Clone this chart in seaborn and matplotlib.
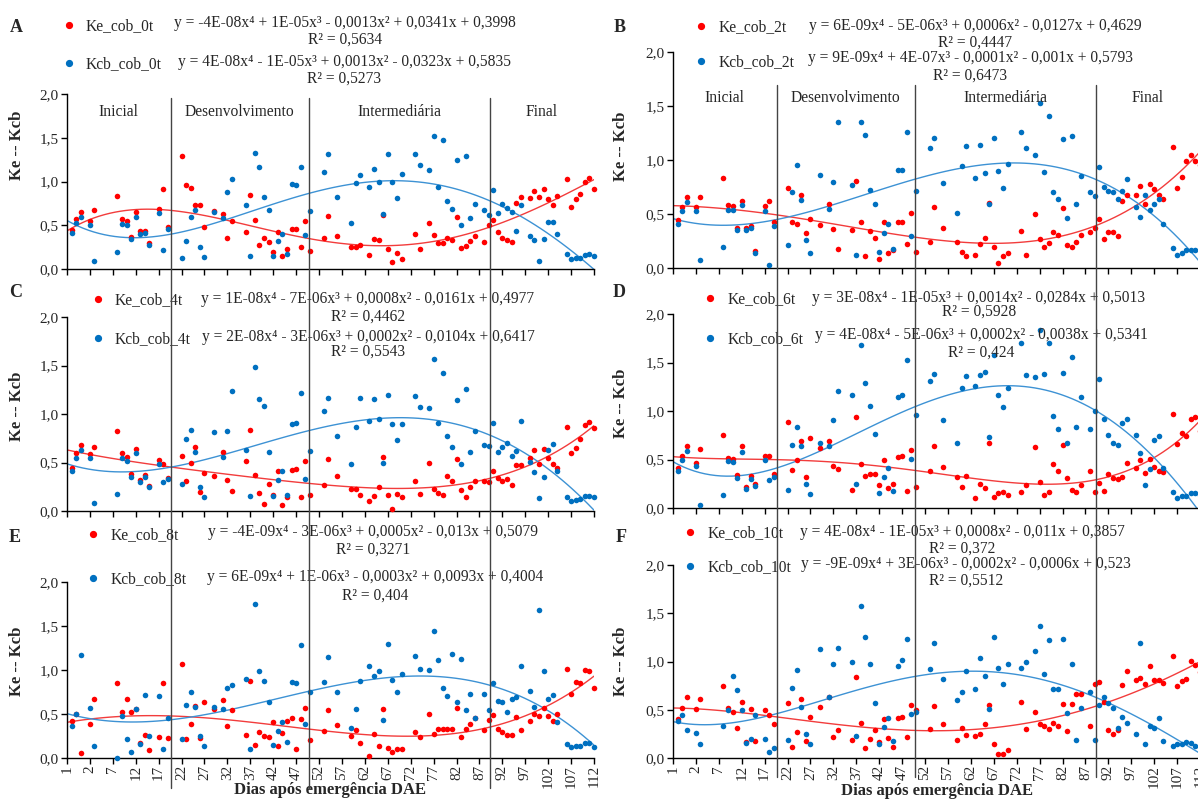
import numpy as np
import pandas as pd
import seaborn as sns
import matplotlib
matplotlib.use("Agg")
import matplotlib.pyplot as plt
import matplotlib.transforms as mtransforms
from matplotlib.lines import Line2D

# ---------------- data ----------------
# category positions (0 = first category "1") of the observation days
POS = [1, 2, 3, 5, 6, 11, 12, 13, 14, 15, 16, 17, 18, 20, 21, 22,
       25, 26, 27, 28, 29, 30, 32, 34, 35, 36, 39, 40, 41, 42, 43, 44, 45, 46, 47, 48, 49, 50, 51, 52, 53,
       56, 57, 59, 62, 63, 64, 66, 67, 68, 69, 70, 71, 72, 73, 76, 77, 79, 80, 81, 82, 83, 84, 85, 86, 87, 88, 89,
       91,
       92, 93, 94, 95, 96, 97, 98, 99, 101, 102, 103, 104, 105, 106, 107, 109, 110, 111, 112, 113, 114, 115]

XTICK_LABELS = ["1", "2", "7", "12", "17", "22", "27", "32", "37", "42", "47", "52", "57",
                "62", "67", "72", "77", "82", "87", "92", "97", "102", "107", "112"]
YTICK_LABELS = ["0,0", "0,5", "1,0", "1,5", "2,0"]
STAGES = ["Inicial", "Desenvolvimento", "Intermediária", "Final"]
STAGE_BOUNDS = [22.6, 52.7, 92.2]

KE_0T = [0.45, 0.575, 0.65, 0.545, 0.68, 0.84, 0.57, 0.545, 0.365, 0.65, 0.44, 0.44, 0.30, 0.69, 0.91, 0.48,
         1.29, 0.96, 0.93, 0.735, 0.73, 0.48, 0.66, 0.63, 0.36, 0.545, 0.42, 0.85, 0.555, 0.27, 0.355, 0.31, 0.20, 0.42, 0.145, 0.23, 0.46, 0.46, 0.25, 0.545, 0.21,
         0.35, 0.61, 0.38, 0.25, 0.25, 0.27, 0.155, 0.34, 0.33, 0.62, 0.23, 0.075, 0.18, 0.11, 0.40, 0.23, 0.53, 0.39, 0.30, 0.30, 0.36, 0.33, 0.59, 0.24, 0.26, 0.32, 0.38,
         0.31,
         0.50, 0.555, 0.42, 0.35, 0.33, 0.305, 0.755, 0.82, 0.81, 0.895, 0.82, 0.915, 0.80, 0.735, 0.84, 1.03, 0.71, 0.80, 0.86, 0.995, 1.04, 0.915]
KCB_0T = [0.41, 0.53, 0.595, 0.50, 0.09, 0.195, 0.52, 0.505, 0.345, 0.595, 0.40, 0.41, 0.27, 0.64, 0.22, 0.455,
          0.125, 0.315, 0.60, 0.68, 0.25, 0.135, 0.65, 0.585, 0.88, 1.03, 0.73, 0.15, 1.325, 1.165, 0.82, 0.68, 0.15, 0.325, 0.405, 0.175, 0.975, 0.965, 1.17, 0.385, 0.66,
          1.105, 1.31, 0.82, 0.525, 0.98, 1.07, 0.94, 1.145, 1.00, 0.63, 1.32, 1.00, 0.81, 1.085, 1.315, 1.185, 1.135, 1.525, 0.94, 1.47, 0.78, 0.69, 1.25, 0.50, 1.29, 0.585, 0.745,
          0.68,
          0.62, 0.905, 0.635, 0.745, 0.70, 0.65, 0.44, 0.73, 0.375, 0.335, 0.09, 0.345, 0.535, 0.535, 0.405, 0.17, 0.12, 0.13, 0.13, 0.155, 0.17, 0.145]

KE_2T = [0.44, 0.565, 0.66, 0.565, 0.66, 0.83, 0.58, 0.57, 0.375, 0.625, 0.375, 0.39, 0.155, 0.575, 0.625, 0.425,
         0.745, 0.425, 0.405, 0.68, 0.32, 0.455, 0.395, 0.595, 0.36, 0.18, 0.355, 0.805, 0.43, 0.11, 0.34, 0.28, 0.08, 0.425, 0.14, 0.17, 0.43, 0.425, 0.22, 0.51, 0.15,
         0.245, 0.565, 0.37, 0.245, 0.15, 0.11, 0.125, 0.22, 0.28, 0.605, 0.195, 0.05, 0.11, 0.14, 0.345, 0.12, 0.50, 0.27, 0.195, 0.23, 0.335, 0.31, 0.56, 0.215, 0.19, 0.245, 0.31,
         0.335,
         0.37, 0.45, 0.27, 0.335, 0.335, 0.30, 0.62, 0.68, 0.68, 0.76, 0.595, 0.78, 0.735, 0.675, 0.64, 1.12, 0.74, 0.845, 0.995, 1.05, 0.99, 0.955]
KCB_2T = [0.405, 0.525, 0.615, 0.525, 0.07, 0.195, 0.535, 0.535, 0.35, 0.585, 0.35, 0.37, 0.14, 0.53, 0.03, 0.39,
          0.21, 0.70, 0.95, 0.63, 0.255, 0.14, 0.865, 0.545, 0.795, 1.35, 0.77, 0.125, 1.35, 1.235, 0.725, 0.59, 0.15, 0.32, 0.41, 0.18, 0.905, 0.905, 1.255, 0.30, 0.71,
          1.11, 1.205, 0.79, 0.51, 0.94, 1.13, 0.835, 1.14, 0.88, 0.59, 1.20, 0.895, 0.74, 0.96, 1.255, 1.11, 1.05, 1.53, 0.89, 1.405, 0.705, 0.64, 1.19, 0.465, 1.22, 0.595, 0.85,
          0.705,
          0.665, 0.935, 0.75, 0.715, 0.705, 0.64, 0.715, 0.82, 0.565, 0.47, 0.68, 0.535, 0.595, 0.64, 0.41, 0.185, 0.125, 0.14, 0.17, 0.17, 0.165, 0.155]

KE_4T = [0.44, 0.60, 0.68, 0.59, 0.66, 0.82, 0.60, 0.56, 0.38, 0.64, 0.32, 0.37, 0.26, 0.53, 0.48, 0.34,
         0.57, 0.31, 0.50, 0.66, 0.20, 0.39, 0.36, 0.61, 0.32, 0.21, 0.52, 0.84, 0.37, 0.19, 0.07, 0.28, 0.16, 0.41, 0.065, 0.14, 0.42, 0.43, 0.14, 0.52, 0.17,
         0.27, 0.54, 0.36, 0.23, 0.23, 0.17, 0.10, 0.15, 0.25, 0.56, 0.17, 0.02, 0.18, 0.14, 0.31, 0.18, 0.50, 0.23, 0.19, 0.17, 0.36, 0.31, 0.54, 0.22, 0.14, 0.25, 0.31,
         0.31,
         0.30, 0.41, 0.34, 0.31, 0.33, 0.27, 0.47, 0.47, 0.55, 0.63, 0.48, 0.64, 0.55, 0.48, 0.44, 0.87, 0.60, 0.65, 0.74, 0.89, 0.92, 0.86]
KCB_4T = [0.41, 0.55, 0.63, 0.55, 0.08, 0.18, 0.55, 0.52, 0.35, 0.60, 0.30, 0.35, 0.25, 0.48, 0.30, 0.33,
          0.28, 0.74, 0.84, 0.61, 0.25, 0.14, 0.81, 0.56, 0.82, 1.24, 0.63, 0.15, 1.48, 1.15, 1.08, 0.61, 0.15, 0.32, 0.41, 0.17, 0.90, 0.91, 1.22, 0.33, 0.62,
          1.03, 1.16, 0.77, 0.48, 0.87, 1.16, 0.93, 1.15, 0.95, 0.50, 1.20, 0.90, 0.73, 0.90, 1.19, 1.07, 1.06, 1.57, 0.91, 1.42, 0.77, 0.66, 1.14, 0.48, 1.26, 0.61, 0.82,
          0.68,
          0.67, 0.91, 0.61, 0.66, 0.70, 0.57, 0.62, 0.93, 0.51, 0.40, 0.13, 0.35, 0.63, 0.69, 0.41, 0.14, 0.10, 0.11, 0.12, 0.15, 0.15, 0.14]

KE_6T = [0.41, 0.54, 0.64, 0.46, 0.61, 0.75, 0.52, 0.51, 0.34, 0.64, 0.22, 0.33, 0.25, 0.54, 0.54, 0.35,
         0.89, 0.39, 0.49, 0.69, 0.32, 0.72, 0.62, 0.69, 0.43, 0.40, 0.19, 0.94, 0.45, 0.33, 0.35, 0.35, 0.24, 0.49, 0.21, 0.25, 0.53, 0.54, 0.18, 0.60, 0.22,
         0.38, 0.64, 0.42, 0.32, 0.22, 0.33, 0.10, 0.25, 0.21, 0.67, 0.11, 0.15, 0.16, 0.13, 0.17, 0.24, 0.63, 0.27, 0.13, 0.16, 0.45, 0.38, 0.65, 0.31, 0.19, 0.17, 0.24,
         0.38,
         0.17, 0.26, 0.18, 0.35, 0.31, 0.30, 0.32, 0.46, 0.41, 0.49, 0.36, 0.51, 0.42, 0.38, 0.37, 0.97, 0.66, 0.77, 0.74, 0.92, 0.94, 0.79]
KCB_6T = [0.38, 0.49, 0.59, 0.43, 0.03, 0.13, 0.48, 0.47, 0.31, 0.58, 0.20, 0.30, 0.23, 0.49, 0.29, 0.32,
          0.19, 0.65, 0.84, 0.64, 0.25, 0.14, 0.67, 0.64, 0.91, 1.21, 1.17, 0.25, 1.68, 1.29, 1.05, 0.76, 0.15, 0.32, 0.41, 0.18, 1.14, 1.16, 1.53, 0.51, 0.96,
          1.31, 1.38, 0.91, 0.67, 1.24, 1.36, 1.26, 1.37, 1.40, 0.73, 1.58, 1.16, 1.04, 1.24, 1.70, 1.37, 1.35, 1.84, 1.38, 1.70, 0.95, 0.81, 1.39, 0.67, 1.56, 0.84, 1.14,
          0.81,
          1.00, 1.33, 0.92, 0.75, 0.67, 0.65, 0.88, 0.92, 0.75, 0.57, 0.24, 0.40, 0.70, 0.74, 0.41, 0.16, 0.10, 0.12, 0.12, 0.15, 0.15, 0.13]

KE_8T = [0.42, 0.505, 0.06, 0.39, 0.675, 0.855, 0.525, 0.675, 0.525, 0.56, 0.165, 0.26, 0.09, 0.24, 0.855, 0.23,
         1.07, 0.22, 0.39, 0.595, 0.23, 0.64, 0.555, 0.655, 0.36, 0.545, 0.26, 0.875, 0.15, 0.29, 0.25, 0.24, 0.41, 0.135, 0.28, 0.42, 0.455, 0.105, 0.44, 0.57, 0.21,
         0.31, 0.55, 0.37, 0.25, 0.315, 0.165, 0.025, 0.27, 0.135, 0.56, 0.115, 0.07, 0.105, 0.105, 0.30, 0.24, 0.50, 0.27, 0.325, 0.325, 0.335, 0.33, 0.57, 0.24, 0.33, 0.385, 0.45,
         0.32,
         0.43, 0.49, 0.335, 0.30, 0.26, 0.26, 0.47, 0.315, 0.42, 0.495, 0.48, 0.57, 0.48, 0.42, 0.505, 1.01, 0.73, 0.865, 0.85, 1.00, 0.99, 0.80]
KCB_8T = [0.365, 0.495, 1.165, 0.57, 0.14, 0.0, 0.475, 0.22, 0.07, 0.555, 0.155, 0.72, 0.25, 0.71, 0.10, 0.45,
          0.22, 0.60, 0.755, 0.58, 0.245, 0.135, 0.58, 0.56, 0.80, 0.835, 0.90, 0.10, 1.75, 0.99, 0.87, 0.64, 0.15, 0.31, 0.41, 0.18, 0.86, 0.85, 1.28, 0.39, 0.745,
          0.86, 1.15, 0.75, 0.34, 0.555, 0.87, 1.05, 0.935, 0.99, 0.43, 1.29, 0.885, 0.745, 0.955, 1.16, 1.01, 1.00, 1.445, 1.11, 0.79, 0.70, 1.18, 0.64, 1.12, 0.54, 0.73, 0.45,
          0.73,
          0.54, 0.85, 0.645, 0.64, 0.525, 0.67, 0.69, 1.04, 0.765, 0.58, 1.685, 0.99, 0.67, 0.715, 0.41, 0.16, 0.12, 0.135, 0.135, 0.165, 0.165, 0.13]

KE_10T = [0.40, 0.52, 0.635, 0.505, 0.61, 0.75, 0.52, 0.48, 0.31, 0.58, 0.165, 0.51, 0.18, 0.495, 0.45, 0.355,
          0.565, 0.11, 0.265, 0.615, 0.175, 0.425, 0.525, 0.635, 0.215, 0.29, 0.19, 0.835, 0.365, 0.105, 0.20, 0.295, 0.165, 0.40, 0.21, 0.11, 0.41, 0.42, 0.22, 0.55, 0.50,
          0.305, 0.54, 0.355, 0.19, 0.315, 0.235, 0.23, 0.25, 0.35, 0.545, 0.14, 0.045, 0.045, 0.08, 0.58, 0.305, 0.48, 0.35, 0.33, 0.30, 0.365, 0.33, 0.555, 0.28, 0.555, 0.66, 0.66,
          0.33,
          0.765, 0.79, 0.58, 0.295, 0.25, 0.295, 0.755, 0.90, 0.81, 0.825, 0.765, 0.95, 0.805, 0.805, 0.78, 1.06, 0.75, 0.80, 0.815, 1.01, 0.96, 0.89]
KCB_10T = [0.385, 0.45, 0.295, 0.255, 0.15, 0.33, 0.495, 0.85, 0.70, 0.50, 0.155, 0.20, 0.445, 0.20, 0.065, 0.10,
           0.19, 0.73, 0.91, 0.53, 0.25, 0.14, 1.125, 0.63, 0.97, 1.14, 0.99, 0.225, 1.575, 1.255, 0.97, 0.565, 0.15, 0.32, 0.41, 0.18, 0.955, 1.02, 1.23, 0.46, 0.48,
           0.925, 1.195, 0.82, 0.60, 0.685, 0.90, 0.71, 1.04, 0.85, 0.51, 1.255, 0.935, 0.77, 0.97, 0.935, 1.00, 1.105, 1.37, 0.875, 1.22, 0.72, 0.72, 1.23, 0.47, 0.97, 0.19, 0.52,
           0.68,
           0.19, 0.545, 0.635, 0.565, 0.52, 0.31, 0.425, 0.365, 0.25, 1.19, 0.14, 0.33, 0.31, 0.41, 0.175, 0.125, 0.14, 0.14, 0.165, 0.16, 0.125, 0.115]

SERIES_NAMES = [("Ke_cob_0t", "Kcb_cob_0t"), ("Ke_cob_2t", "Kcb_cob_2t"), ("Ke_cob_4t", "Kcb_cob_4t"),
                ("Ke_cob_6t", "Kcb_cob_6t"), ("Ke_cob_8t", "Kcb_cob_8t"), ("Ke_cob_10t", "Kcb_cob_10t")]
EQUATIONS = [
    ("y = -4E-08x⁴ + 1E-05x³ - 0,0013x² + 0,0341x + 0,3998", "R² = 0,5634",
     "y = 4E-08x⁴ - 1E-05x³ + 0,0013x² - 0,0323x + 0,5835", "R² = 0,5273"),
    ("y = 6E-09x⁴ - 5E-06x³ + 0,0006x² - 0,0127x + 0,4629", "R² = 0,4447",
     "y = 9E-09x⁴ + 4E-07x³ - 0,0001x² - 0,001x + 0,5793", "R² = 0,6473"),
    ("y = 1E-08x⁴ - 7E-06x³ + 0,0008x² - 0,0161x + 0,4977", "R² = 0,4462",
     "y = 2E-08x⁴ - 3E-06x³ + 0,0002x² - 0,0104x + 0,6417", "R² = 0,5543"),
    ("y = 3E-08x⁴ - 1E-05x³ + 0,0014x² - 0,0284x + 0,5013", "R² = 0,5928",
     "y = 4E-08x⁴ - 5E-06x³ + 0,0002x² - 0,0038x + 0,5341", "R² = 0,424"),
    ("y = -4E-09x⁴ - 3E-06x³ + 0,0005x² - 0,013x + 0,5079", "R² = 0,3271",
     "y = 6E-09x⁴ + 1E-06x³ - 0,0003x² + 0,0093x + 0,4004", "R² = 0,404"),
    ("y = 4E-08x⁴ - 1E-05x³ + 0,0008x² - 0,011x + 0,3857", "R² = 0,372",
     "y = -9E-09x⁴ + 3E-06x³ - 0,0002x² - 0,0006x + 0,523", "R² = 0,5512"),
]
PANEL_LETTERS = ["A", "B", "C", "D", "E", "F"]
YLABEL = "Ke -- Kcb"
XLABEL = "Dias após emergência DAE"

KE_DATA = [KE_0T, KE_2T, KE_4T, KE_6T, KE_8T, KE_10T]
KCB_DATA = [KCB_0T, KCB_2T, KCB_4T, KCB_6T, KCB_8T, KCB_10T]

# ---------------- style ----------------
sns.set_theme(style="ticks")
plt.rcParams["font.family"] = ["Liberation Serif", "DejaVu Serif"]
RED = "#FF0000"
BLUE = "#0070C0"
RED_LINE = "#F23C3C"
BLUE_LINE = "#3D92D4"
FS = 11.2

W, H = 1198, 799
fig = plt.figure(figsize=(W / 100, H / 100), dpi=100)


def fx(x):
    return x / W


def fy(y):
    return 1 - y / H


# layout in pixels: x0, x1, ytop, ybottom
RECTS = [(67, 594, 94, 269), (673, 1200, 52, 268),
         (67, 594, 317, 511), (673, 1200, 314, 508),
         (67, 594, 582, 758), (673, 1200, 565, 758)]
LEG = [
    dict(letter=(16, 27), mx=69, lx=86, r=(25, 345, 23, 40), b=(63, 344, 62, 79)),
    dict(letter=(620, 27), mx=701, lx=719, r=(26, 975, 26, 43), b=(61, 970, 58, 76)),
    dict(letter=(16, 293), mx=98, lx=115, r=(299, 368, 299, 317), b=(338, 368, 337, 352)),
    dict(letter=(619, 293), mx=710, lx=728, r=(298, 979, 298, 312), b=(338, 981, 335, 353)),
    dict(letter=(15, 537), mx=93, lx=111, r=(534, 373, 532, 550), b=(578, 375, 577, 596)),
    dict(letter=(621, 537), mx=690, lx=708, r=(532, 962, 532, 549), b=(566, 966, 564, 581)),
]
YLABEL_POS = [(17, 145), (621, 146), (17, 406), (621, 403), (17, 661), (621, 661)]
STAGE_LABEL_Y = {0: 1.79, 1: 1.57}

axes = []
for i, (x0, x1, yt, yb) in enumerate(RECTS):
    ax = fig.add_axes([fx(x0), fy(yb), (x1 - x0) / W, (yb - yt) / H])
    axes.append(ax)
    df = pd.DataFrame({"pos": POS, "Ke": KE_DATA[i], "Kcb": KCB_DATA[i]})
    ax.set_xlim(0, 115)
    ax.set_ylim(0, 2.0)
    sns.regplot(data=df, x="pos", y="Ke", order=4, ci=None, scatter=False, truncate=False,
                ax=ax, line_kws=dict(color=RED_LINE, lw=1.0, zorder=2))
    sns.regplot(data=df, x="pos", y="Kcb", order=4, ci=None, scatter=False, truncate=False,
                ax=ax, line_kws=dict(color=BLUE_LINE, lw=1.0, zorder=2))
    sns.scatterplot(data=df, x="pos", y="Ke", color=RED, s=16, linewidth=0, ax=ax,
                    clip_on=False, zorder=3, legend=False)
    sns.scatterplot(data=df, x="pos", y="Kcb", color=BLUE, s=16, linewidth=0, ax=ax,
                    clip_on=False, zorder=3, legend=False)
    ax.set_xlim(0, 115)
    ax.set_ylim(0, 2.0)
    ax.set_xlabel("")
    ax.set_ylabel("")
    ax.set_xticks(np.arange(0, 116, 5))
    ax.set_yticks([0, 0.5, 1.0, 1.5, 2.0])
    ax.set_yticklabels(YTICK_LABELS)
    bottom = i >= 4
    if bottom:
        ax.set_xticklabels(XTICK_LABELS, rotation=90)
    ax.tick_params(axis="x", bottom=True, labelbottom=bottom, direction="out", length=4,
                   width=1, pad=1, labelsize=11, color="black")
    ax.tick_params(axis="y", left=True, direction="out", length=4, width=1, pad=2,
                   labelsize=11, color="black")
    for s in ["top", "right"]:
        ax.spines[s].set_visible(False)
    for s in ["left", "bottom"]:
        ax.spines[s].set_color("black")
        ax.spines[s].set_linewidth(1.0)
    ax.patch.set_alpha(0)

    if i in STAGE_LABEL_Y:
        edges = [0] + STAGE_BOUNDS + [115]
        for k, name in enumerate(STAGES):
            ax.text((edges[k] + edges[k + 1]) / 2, STAGE_LABEL_Y[i], name, ha="center",
                    va="center", fontsize=FS)

    L = LEG[i]
    fig.text(fx(L["letter"][0]), fy(L["letter"][1]), PANEL_LETTERS[i], fontsize=13,
             fontweight="bold", ha="center", va="center")
    names = SERIES_NAMES[i]
    eq = EQUATIONS[i]
    for (my, ecx, ecy, r2y), col, nm, e, r2 in [(L["r"], RED, names[0], eq[0], eq[1]),
                                              (L["b"], BLUE, names[1], eq[2], eq[3])]:
        fig.add_artist(Line2D([fx(L["mx"])], [fy(my)], marker="o", ms=4.2, color=col,
                              ls="none", transform=fig.transFigure))
        fig.text(fx(L["lx"]), fy(my + 1), nm, fontsize=FS, ha="left", va="center")
        fig.text(fx(ecx), fy(ecy), e, fontsize=FS, ha="center", va="center")
        fig.text(fx(ecx), fy(r2y), r2, fontsize=FS, ha="center", va="center")
    fig.text(fx(YLABEL_POS[i][0]), fy(YLABEL_POS[i][1]), YLABEL, rotation=90, fontsize=12,
             fontweight="bold", ha="center", va="center")

fig.text(fx(330), fy(790), XLABEL, fontsize=12, fontweight="bold", ha="center", va="center")
fig.text(fx(937), fy(791), XLABEL, fontsize=12, fontweight="bold", ha="center", va="center")

for ax_bottom, ytop, ybot in [(axes[4], 98, 788), (axes[5], 85, 777)]:
    trans = mtransforms.blended_transform_factory(ax_bottom.transData, fig.transFigure)
    for b in STAGE_BOUNDS:
        fig.add_artist(Line2D([b, b], [fy(ytop), fy(ybot)], transform=trans,
                              color="#444444", lw=1.0, zorder=5))

fig.savefig("out.png", dpi=100)
